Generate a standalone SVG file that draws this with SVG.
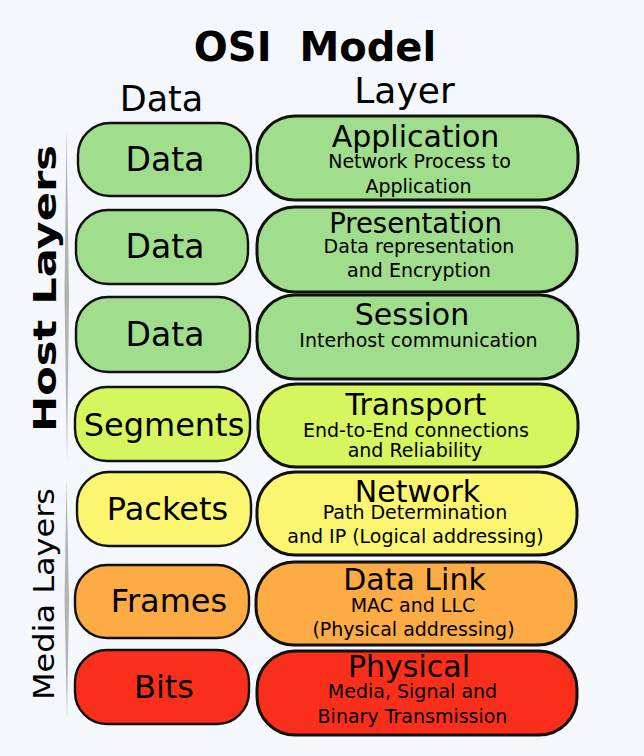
<svg xmlns="http://www.w3.org/2000/svg" width="644" height="756" viewBox="0 0 644 756">
<style>
text{font-family:"DejaVu Sans","Liberation Sans",sans-serif;fill:#000;text-anchor:middle}
.title{font-size:40px;font-weight:bold}
.hdr{font-size:35px}
.pdu{font-size:33px}
.lt{font-size:30px}
.sub{font-size:19px}
.vt{font-size:32px;font-weight:bold}
.vm{font-size:28px}
.lb{stroke:#111;stroke-width:2.4}
.rb{stroke:#111;stroke-width:3}
.g{fill:#a0dd8c}
.yg{fill:#d6f55e}
.y{fill:#fcf570}
.o{fill:#fcab45}
.r{fill:#f92f1b}
.bar{fill:#b3b3b3}
</style>
<rect width="644" height="756" fill="#f4f7fb"/>
<text class="title" x="315" y="61" xml:space="preserve">OSI  Model</text>
<text class="hdr" x="161.5" y="111">Data</text>
<text class="hdr" x="404.5" y="103" style="font-size:36px">Layer</text>

<g id="brackets">
<polygon class="bar" points="66.5,128 69,295 67,462 64.5,295"/>
<polygon class="bar" points="66.5,478 69,600 67,720 64.5,600"/>
</g>
<text class="vt" transform="translate(55.5,288.5) rotate(-90)" textLength="287" lengthAdjust="spacingAndGlyphs">Host Layers</text>
<text class="vm" transform="translate(53.5,594) rotate(-90)" textLength="212" lengthAdjust="spacingAndGlyphs">Media Layers</text>

<g id="pdu-data1"><rect class="lb g" x="78" y="123" width="173" height="73" rx="32"/><text class="pdu" x="165" y="171">Data</text></g>
<g id="pdu-data2"><rect class="lb g" x="76" y="210" width="172" height="74" rx="32"/><text class="pdu" x="165" y="258">Data</text></g>
<g id="pdu-data3"><rect class="lb g" x="76" y="297" width="174" height="75" rx="32"/><text class="pdu" x="165" y="346">Data</text></g>
<g id="pdu-segments"><rect class="lb yg" x="75" y="387" width="175" height="74" rx="32"/><text class="pdu" x="164" y="436" style="font-size:32px">Segments</text></g>
<g id="pdu-packets"><rect class="lb y" x="77" y="472" width="174" height="74" rx="32"/><text class="pdu" x="167.5" y="520" style="font-size:32px">Packets</text></g>
<g id="pdu-frames"><rect class="lb o" x="75" y="565" width="174" height="73" rx="32"/><text class="pdu" x="169" y="611.5" style="font-size:32px">Frames</text></g>
<g id="pdu-bits"><rect class="lb r" x="75" y="650" width="174" height="74" rx="32"/><text class="pdu" x="164" y="698" style="font-size:32px">Bits</text></g>

<g id="layer-application"><rect class="rb g" x="257" y="116" width="321" height="84" rx="38"/>
<text class="lt" x="415.5" y="147">Application</text>
<text class="sub" x="419.5" y="168">Network Process to</text>
<text class="sub" x="418.5" y="193">Application</text></g>

<g id="layer-presentation"><rect class="rb g" x="257" y="207" width="320" height="85" rx="38"/>
<text class="lt" x="415.5" y="233" style="font-size:27.5px">Presentation</text>
<text class="sub" x="419" y="253">Data representation</text>
<text class="sub" x="419" y="277">and Encryption</text></g>

<g id="layer-session"><rect class="rb g" x="257" y="295" width="321" height="84" rx="38"/>
<text class="lt" x="412" y="325">Session</text>
<text class="sub" x="418.5" y="347">Interhost communication</text></g>

<g id="layer-transport"><rect class="rb yg" x="258" y="384" width="320" height="83" rx="38"/>
<text class="lt" x="416" y="415">Transport</text>
<text class="sub" x="416" y="437">End-to-End connections</text>
<text class="sub" x="415" y="457">and Reliability</text></g>

<g id="layer-network"><rect class="rb y" x="257" y="472" width="320" height="83" rx="38"/>
<text class="lt" x="417.5" y="502">Network</text>
<text class="sub" x="415" y="519">Path Determination</text>
<text class="sub" x="415.5" y="543">and IP (Logical addressing)</text></g>

<g id="layer-datalink"><rect class="rb o" x="256" y="562" width="320" height="83" rx="38"/>
<text class="lt" x="414.5" y="590">Data Link</text>
<text class="sub" x="413" y="612">MAC and LLC</text>
<text class="sub" x="413.5" y="636">(Physical addressing)</text></g>

<g id="layer-physical"><rect class="rb r" x="257" y="651" width="320" height="84" rx="38"/>
<text class="lt" x="409" y="677">Physical</text>
<text class="sub" x="412.5" y="698">Media, Signal and</text>
<text class="sub" x="412.5" y="723">Binary Transmission</text></g>
</svg>
